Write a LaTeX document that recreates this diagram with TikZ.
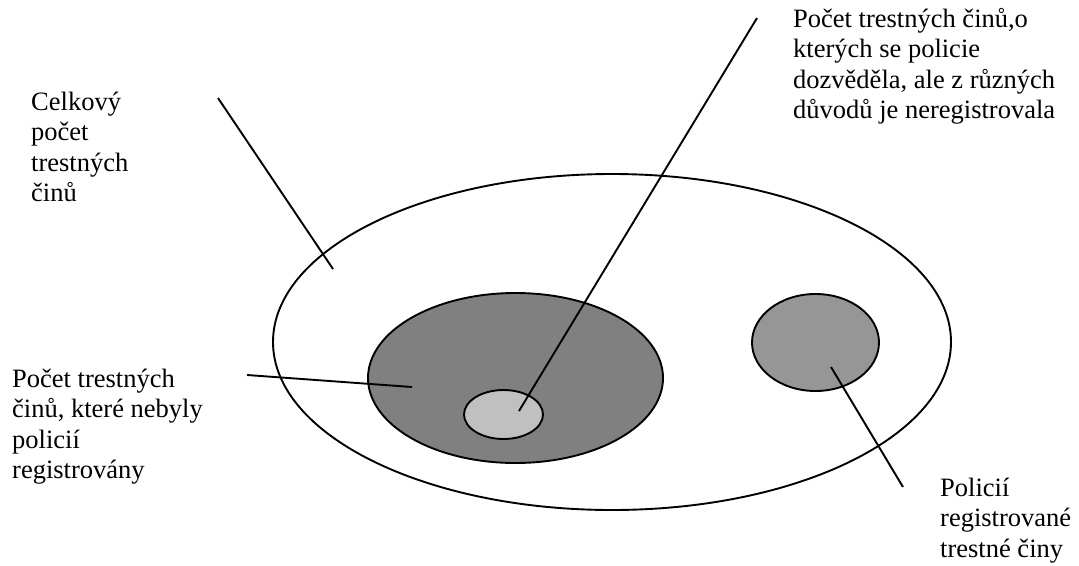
\documentclass[tikz,border=0pt]{standalone}
\usepackage{fontspec}
\setmainfont{Liberation Serif}
\usetikzlibrary{shapes.geometric}
\definecolor{darkfill}{HTML}{808080}
\definecolor{lightfill}{HTML}{C0C0C0}
\definecolor{midfill}{HTML}{969696}
\begin{document}
\begin{tikzpicture}[x=1pt,y=-1pt,
  lbl/.style={align=left,inner sep=0pt,font=\fontsize{26.5}{30.5}\selectfont,anchor=base west},
  ring/.style={ellipse,draw=black,line width=1.9pt,inner sep=0pt},
  lead/.style={draw=black,line width=1.9pt}]
\useasboundingbox (0,0) rectangle (1079,565);
\node[ring,fill=white,minimum width=678pt,minimum height=336pt] (all) at (612,342) {};
\node[ring,fill=darkfill,minimum width=295pt,minimum height=170pt] (unreg) at (515.5,378) {};
\node[ring,fill=lightfill,minimum width=79pt,minimum height=49pt] (known) at (503.5,414.5) {};
\node[ring,fill=midfill,minimum width=127pt,minimum height=97pt] (reg) at (815.5,342.5) {};
% anchor base = baseline of the last line
\node[lbl] (tall) at (31,201.5) {Celkový\\počet\\trestných\\činů};
\node[lbl] (tunreg) at (12,478.5) {Počet trestných\\činů, které nebyly\\policií\\registrovány};
\node[lbl] (tknown) at (793,118.5) {Počet trestných činů,o\\kterých se policie\\dozvěděla, ale z různých\\důvodů je neregistrovala};
\node[lbl] (treg) at (940,557) {Policií\\registrované\\trestné činy};
\coordinate (a1) at (218,98);  \coordinate (a2) at (333,269);
\coordinate (b1) at (757,18);  \coordinate (b2) at (519,411);
\coordinate (c1) at (247,375); \coordinate (c2) at (412,387);
\coordinate (d1) at (831,367); \coordinate (d2) at (903,487);
\draw[lead] (a1) -- (a2);
\draw[lead] (b1) -- (b2);
\draw[lead] (c1) -- (c2);
\draw[lead] (d1) -- (d2);
\end{tikzpicture}
\end{document}
